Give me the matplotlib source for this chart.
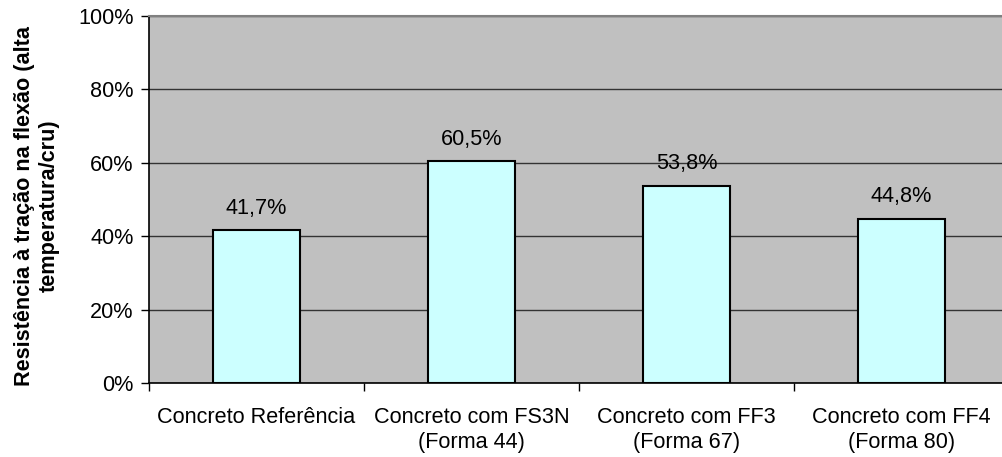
import matplotlib
matplotlib.use("Agg")
import matplotlib.pyplot as plt
from matplotlib.ticker import FixedLocator, FuncFormatter

plt.rcParams['font.family'] = ['Liberation Sans', 'DejaVu Sans']

categories = [
    "Concreto Referência",
    "Concreto com FS3N\n(Forma 44)",
    "Concreto com FF3\n(Forma 67)",
    "Concreto com FF4\n(Forma 80)",
]
values = [41.7, 60.5, 53.8, 44.8]
value_labels = ["41,7%", "60,5%", "53,8%", "44,8%"]
y_ticks = [0, 20, 40, 60, 80, 100]
y_label = "Resistência à tração na flexão (alta\ntemperatura/cru)"

FS = 15.6

fig = plt.figure(figsize=(10.03, 4.57), dpi=100)
W, H = 1003, 457
left, right, top, bottom = 149, 1009, 16, 383
ax = fig.add_axes([left / W, 1 - bottom / H, (right - left) / W, (bottom - top) / H])
ax.set_facecolor("#C0C0C0")

x = list(range(len(categories)))
ax.bar(x, values, width=0.405, color="#CCFFFF", edgecolor="black", linewidth=1.5, zorder=3)

for xi, v, lab in zip(x, values, value_labels):
    ax.annotate(lab, (xi, v), xytext=(0, 8), textcoords="offset points",
                ha="center", va="bottom", fontsize=FS, color="black")

ax.set_xlim(-0.5, len(categories) - 0.5)
ax.set_ylim(0, 100)

# y axis: percent ticks and gridlines
ax.yaxis.set_major_locator(FixedLocator(y_ticks))
ax.yaxis.set_major_formatter(FuncFormatter(lambda v, p: f"{int(v)}%"))
ax.tick_params(axis="y", direction="out", length=6, width=1, labelsize=FS, pad=5)
ax.grid(axis="y", color="#333333", linewidth=1.0, zorder=0)
ax.set_axisbelow(True)

# x axis: ticks on category boundaries, labels centred on the bars
bounds = [i - 0.5 for i in range(len(categories) + 1)]
ax.xaxis.set_major_locator(FixedLocator(bounds))
ax.xaxis.set_major_formatter(FuncFormatter(lambda v, p: ""))
ax.xaxis.set_minor_locator(FixedLocator(x))
ax.set_xticklabels(categories, minor=True)
ax.tick_params(axis="x", which="major", direction="out", length=6, width=1)
ax.tick_params(axis="x", which="minor", length=0, labelsize=FS, pad=17)
for t in ax.get_xticklabels(minor=True):
    t.set_multialignment("center")
    t.set_linespacing(1.3)

for s in ("left", "bottom"):
    ax.spines[s].set_color("black")
    ax.spines[s].set_linewidth(1.2)
for s in ("top", "right"):
    ax.spines[s].set_color("#808080")
    ax.spines[s].set_linewidth(1.5)

fig.text(37 / W, 1 - 206 / H, y_label, rotation=90, ha="center", va="center",
         fontsize=FS, fontweight="bold", multialignment="center", linespacing=1.25)

fig.savefig("out.png", dpi=100)
